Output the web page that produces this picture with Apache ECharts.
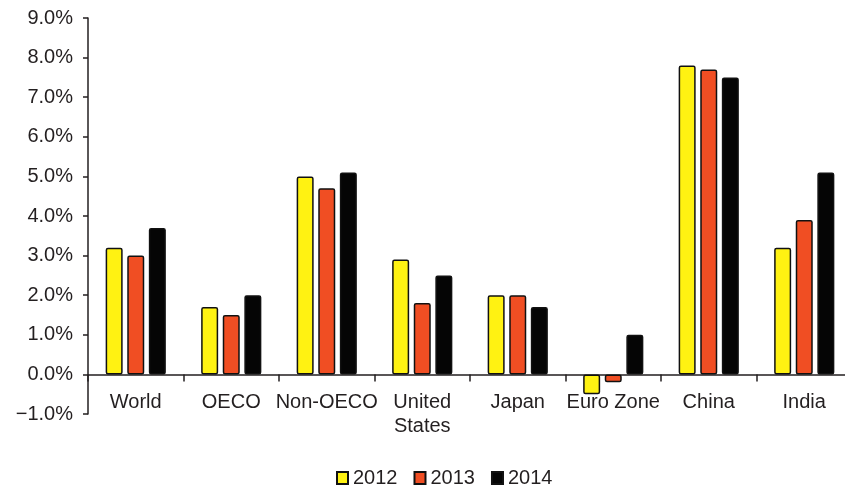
<!DOCTYPE html>
<html>
<head>
<meta charset="utf-8">
<script src="https://cdn.jsdelivr.net/npm/echarts@6/dist/echarts.min.js"></script>
<style>
  html, body { margin: 0; padding: 0; background: #fff; overflow: hidden; }
  #chart { width: 845px; height: 487px; }
</style>
</head>
<body>
<div id="chart"></div>
<script>
// Real GDP growth by economy, 2012–2014 (%)
const categories = ['World', 'OECO', 'Non-OECO', 'United\nStates', 'Japan', 'Euro Zone', 'China', 'India'];
const growth2012 = [3.2, 1.7, 5.0, 2.9, 2.0, -0.5, 7.8, 3.2];
const growth2013 = [3.0, 1.5, 4.7, 1.8, 2.0, -0.2, 7.7, 3.9];
const growth2014 = [3.7, 2.0, 5.1, 2.5, 1.7, 1.0, 7.5, 5.1];
const seriesNames = ['2012', '2013', '2014'];
const seriesColors = ['#fff212', '#f04e23', '#050505'];

const textColor = '#231f20';
const fontFamily = 'Liberation Sans, Arial, Helvetica, sans-serif';

const chart = echarts.init(document.getElementById('chart'), null, { renderer: 'canvas' });

function barSeries(name, data, color) {
  return {
    name: name,
    type: 'bar',
    data: data,
    barWidth: 17,
    barGap: '27%',
    itemStyle: {
      color: color,
      borderColor: '#111',
      borderWidth: 1.5,
      borderRadius: 1.5
    }
  };
}

chart.setOption({
  animation: false,
  backgroundColor: '#fff',
  textStyle: { fontFamily: fontFamily },
  grid: {
    left: 88,
    right: -7,
    top: 18,
    bottom: 73,
    containLabel: false,
    outerBoundsMode: 'none'
  },
  legend: {
    data: seriesNames,
    left: 336,
    top: 468,
    padding: 0,
    itemWidth: 11,
    itemHeight: 12,
    itemGap: 16,
    icon: 'rect',
    textStyle: { color: textColor, fontSize: 20, fontFamily: fontFamily }
  },
  xAxis: {
    type: 'category',
    data: categories,
    axisLine: { onZero: true, lineStyle: { color: textColor, width: 1.5 } },
    axisTick: { show: true, inside: false, length: 7, lineStyle: { color: textColor, width: 1.5 } },
    axisLabel: {
      color: textColor,
      fontSize: 20,
      fontFamily: fontFamily,
      margin: -24,
      lineHeight: 24,
      interval: 0
    },
    splitLine: { show: false }
  },
  yAxis: {
    type: 'value',
    min: -1,
    max: 9,
    interval: 1,
    axisLine: { show: true, onZero: false, lineStyle: { color: textColor, width: 1.5 } },
    axisTick: { show: true, length: 5, lineStyle: { color: textColor, width: 1.5 } },
    axisLabel: {
      color: textColor,
      fontSize: 20,
      fontFamily: fontFamily,
      margin: 15,
      formatter: function (v) {
        const s = Math.abs(v).toFixed(1) + '%';
        return v < 0 ? '\u2212' + s : s;
      }
    },
    splitLine: { show: false }
  },
  series: [
    barSeries(seriesNames[0], growth2012, seriesColors[0]),
    barSeries(seriesNames[1], growth2013, seriesColors[1]),
    barSeries(seriesNames[2], growth2014, seriesColors[2])
  ]
});
</script>
</body>
</html>
